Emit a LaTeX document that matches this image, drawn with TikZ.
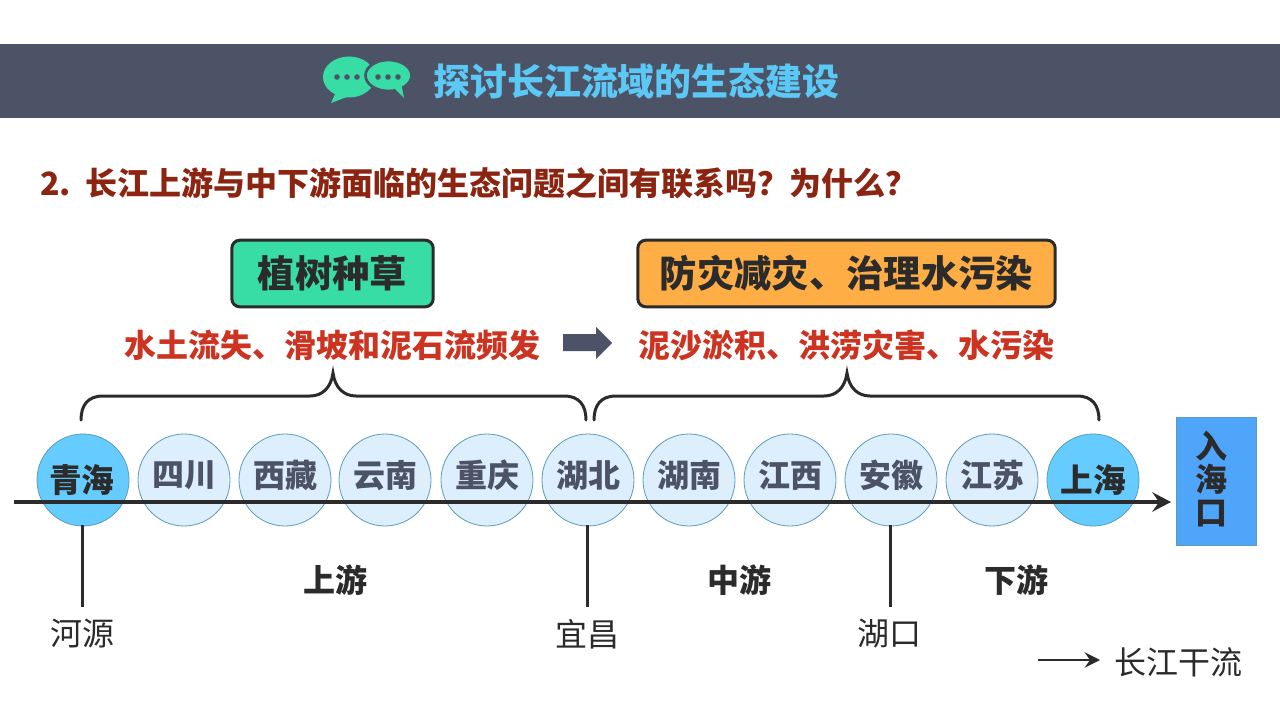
\documentclass[tikz,border=0pt]{standalone}
\usepackage{fontspec}
\setmainfont{Noto Sans CJK SC}
\usetikzlibrary{arrows.meta}
\usetikzlibrary{positioning}
\definecolor{slatebar}{HTML}{4C5366}
\definecolor{titleblue}{HTML}{5CC8F5}
\definecolor{bubblegreen}{HTML}{38DDA5}
\definecolor{questionred}{HTML}{8B2410}
\definecolor{issuered}{HTML}{CC3320}
\definecolor{inkdark}{HTML}{2B2B2B}
\definecolor{boxorange}{HTML}{FFAE45}
\definecolor{citypale}{HTML}{DDEEFD}
\definecolor{cityblue}{HTML}{66CCFF}
\definecolor{cityedge}{HTML}{5B9DB5}
\definecolor{seablue}{HTML}{4FA5FA}
\tikzset{
  cityball/.style={circle, draw=cityedge, line width=0.6pt, fill=citypale, minimum size=69pt, inner sep=0pt,
    text=slatebar, font=\fontsize{24}{24}\selectfont\bfseries},
  endball/.style={cityball, fill=cityblue, text=inkdark, font=\fontsize{24.5}{24.5}\selectfont\bfseries},
  measurebox/.style={draw=inkdark, line width=2.25pt, rounded corners=6pt, minimum height=50pt, inner sep=0pt,
    text=inkdark, font=\fontsize{28}{28}\selectfont\bfseries},
  issuetext/.style={text=issuered, inner sep=0pt, font=\fontsize{24}{24}\selectfont\bfseries},
  reachtext/.style={text=inkdark, inner sep=0pt, font=\fontsize{24}{24}\selectfont\bfseries},
  placetext/.style={text=inkdark, inner sep=0pt, font=\fontsize{24}{24}\selectfont},
  riverline/.style={draw=inkdark, line width=3pt, -{Stealth[length=14pt,width=14.5pt,inset=5pt]}},
  tickline/.style={draw=inkdark, line width=2.25pt},
  braceline/.style={draw=inkdark, line width=2.25pt, line cap=round},
}
\begin{document}
\begin{tikzpicture}[x=0.75pt, y=-0.75pt]
  \useasboundingbox (0, 0) rectangle (1280, 720);
  \fill[white] (0, 0) rectangle (1280, 720);

  % banner
  \fill[slatebar] (0, 44) rectangle (1280, 118);
  \fill[bubblegreen] (349, 77) ellipse [x radius=26, y radius=20.5];
  \fill[bubblegreen] (336, 92) -- (331, 103) -- (352, 95) -- cycle;
  \fill[bubblegreen, draw=slatebar, line width=2pt] (388.5, 75.5) ellipse [x radius=23, y radius=15.5];
  \fill[bubblegreen] (393, 87) -- (404, 98) -- (401, 83) -- cycle;
  \foreach \dotx in {337, 347, 357, 378, 388, 398}
    \fill[slatebar] (\dotx, 77) circle [radius=2.8];
  \node (title) [anchor=west, inner sep=0pt, text=titleblue, font=\fontsize{27.7}{28}\selectfont\bfseries] at (433, 81) {探讨长江流域的生态建设};

  \node (question) [anchor=west, inner sep=0pt, text=questionred, font=\fontsize{24}{24}\selectfont\bfseries] at (40, 183) {2.\ \ 长江上游与中下游面临的生态问题之间有联系吗\symbol{"FF1F}为什么\symbol{"FF1F}};

  % measures and problems
  \node (plant) [measurebox, fill=bubblegreen, minimum width=151pt] at (332.5, 273.5) {植树种草};
  \node (protect) [measurebox, fill=boxorange, minimum width=313pt] at (846.5, 273.5) {防灾减灾、治理水污染};
  \node (erosion) [issuetext] at (332, 345) {水土流失、滑坡和泥石流频发};
  \node (silting) [issuetext] at (846, 345) {泥沙淤积、洪涝灾害、水污染};
  \fill[slatebar] (563, 334) -- (596, 334) -- (596, 327) -- (612, 343) -- (596, 359) -- (596, 351) -- (563, 351) -- cycle;

  % braces
  \draw[braceline] (81, 420) .. controls (81, 405) and (88, 396) .. (103, 396) -- (310, 396)
    .. controls (322, 396) and (331, 388) .. (333, 373) .. controls (335, 388) and (344, 396) .. (356, 396)
    -- (564, 396) .. controls (579, 396) and (586, 405) .. (586, 420);
  \draw[braceline] (594, 420) .. controls (594, 405) and (601, 396) .. (616, 396) -- (824, 396)
    .. controls (836, 396) and (845, 388) .. (847, 373) .. controls (849, 388) and (858, 396) .. (870, 396)
    -- (1077, 396) .. controls (1092, 396) and (1099, 405) .. (1099, 420);

  % provinces along the river
  \node (qinghai) [endball] at (83, 480) {\raisebox{-1pt}{青海\hspace*{2pt}}};
  \foreach \cityname/\cityx/\citytext in {sichuan/184/四川, xizang/285/西藏, yunnan/385/云南, chongqing/487/重庆,
      hubei/588/湖北, hunan/689/湖南, jiangxi/790/江西, anhui/891/安徽, jiangsu/992/江苏}
    \node (\cityname) [cityball] at (\cityx, 480) {\raisebox{9pt}{\citytext}};
  \node (shanghai) [endball] at (1093, 480) {\raisebox{-1pt}{上海}};

  \node (estuary) [draw=cityedge, line width=0.6pt, fill=seablue, minimum width=60pt, minimum height=96pt, inner sep=0pt] at (1216, 481) {};
  \node (estuarytext) [inner sep=0pt, align=center, text=inkdark, font=\fontsize{24}{24.4}\selectfont\bfseries] at (1211, 479) {入\\海\\口};

  \coordinate (riverstart) at (14, 502);
  \coordinate (riverend) at (1171, 502);
  \draw[riverline] (riverstart) -- (riverend);

  % reaches and dividing places
  \node (upper) [reachtext] at (335, 580) {上游};
  \node (middle) [reachtext] at (739, 580) {中游};
  \node (lower) [reachtext] at (1016, 580) {下游};
  \node (heyuan) [placetext] at (82, 634) {河源};
  \node (yichang) [placetext] at (587, 634) {宜昌};
  \node (hukou) [placetext] at (889, 634) {湖口};
  \coordinate (heyuantop) at (82, 525);
  \coordinate (heyuanend) at (82, 607);
  \coordinate (yichangtop) at (587, 525);
  \coordinate (yichangend) at (587, 607);
  \coordinate (hukoutop) at (890, 525);
  \coordinate (hukouend) at (890, 607);
  \draw[tickline] (heyuantop) -- (heyuanend);
  \draw[tickline] (yichangtop) -- (yichangend);
  \draw[tickline] (hukoutop) -- (hukouend);

  % legend
  \coordinate (legendstart) at (1038, 660);
  \node (legendtext) [placetext] at (1178, 662) {长江干流};
  \coordinate (legendend) at (1100, 660);
  \draw[draw=inkdark, line width=1.8pt, -{Stealth[length=11.5pt,width=11.5pt,inset=4pt]}] (legendstart) -- (legendend);
\end{tikzpicture}
\end{document}
